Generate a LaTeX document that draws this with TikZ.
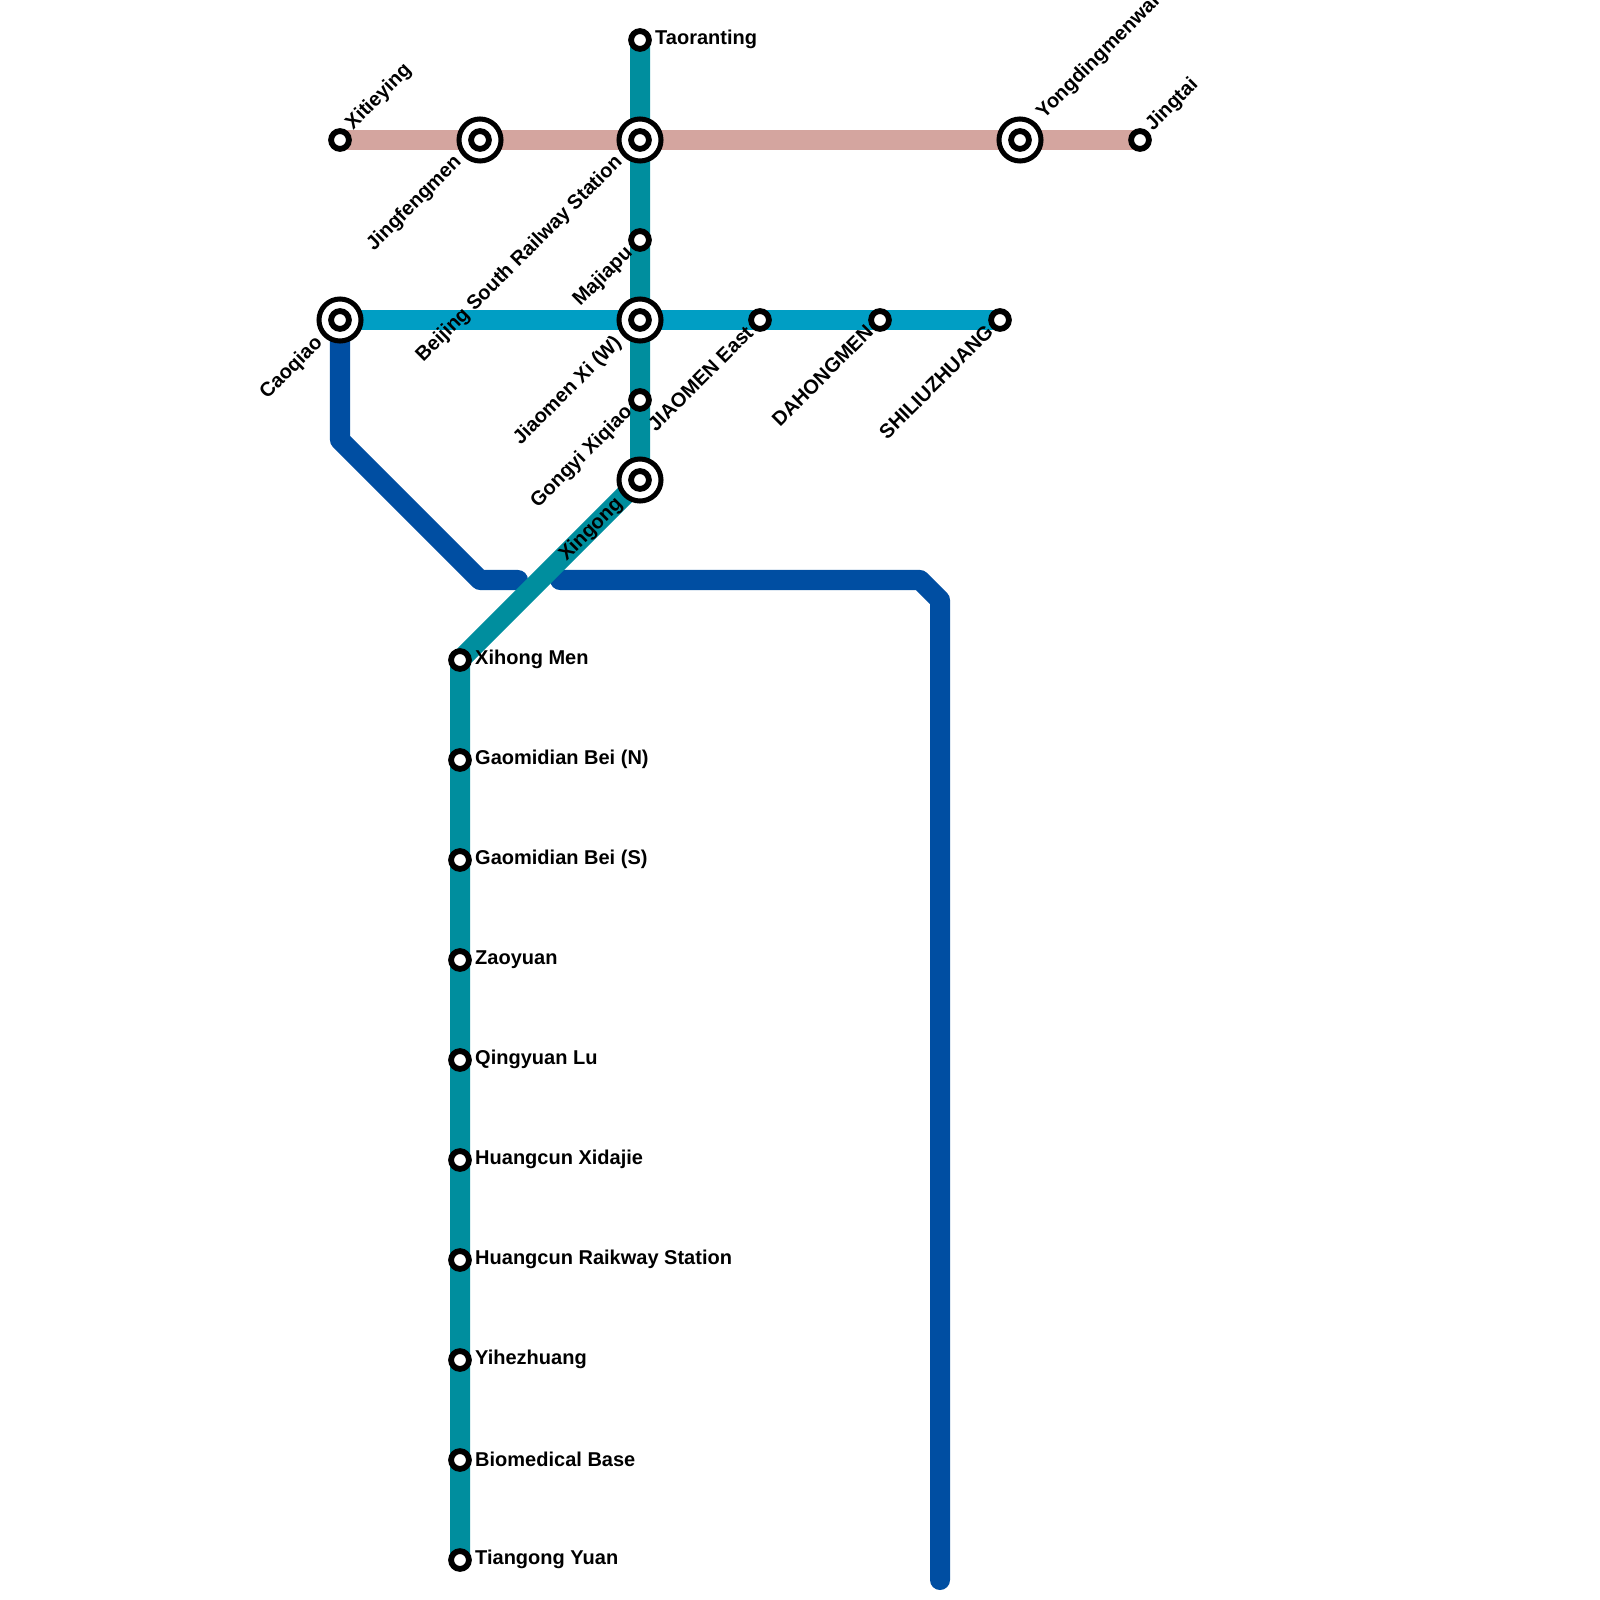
\documentclass[tikz,border=0pt]{standalone}
\usepackage{fontspec}
\setmainfont{Liberation Sans}
\usetikzlibrary{backgrounds}
\definecolor{linepink}{HTML}{D4A59F}
\definecolor{lineteal}{HTML}{008E9E}
\definecolor{linesky}{HTML}{009EC4}
\definecolor{linenavy}{HTML}{004EA2}
\tikzset{
  stop/.style={circle, draw=black, fill=white, line width=0.058cm, inner sep=0, minimum size=0.178cm},
  hub/.style={circle, draw=black, fill=white, line width=0.05cm, inner sep=0, minimum size=0.42cm,
    path picture={\draw [line width=0.058cm] (path picture bounding box.center) circle (0.089cm);}},
  track/.style={line width=0.2cm, line join=round},
  stationname/.style={font=\fontsize{5.69}{6}\selectfont\bfseries, inner sep=0, text=black},
  namer/.style={stationname, anchor=west},
  nameup/.style={stationname, rotate=45, anchor=west},
  namedown/.style={stationname, rotate=45, anchor=east}
}
\begin{document}
\begin{tikzpicture}[x=0.01cm, y=-0.01cm]
  \useasboundingbox (0, 0) rectangle (1600, 1600);
  % stations
  \node [stop] (xitieying) at (340, 140) {};
  \node [hub] (jingfengmen) at (480, 140) {};
  \node [hub] (bjsouth) at (640, 140) {};
  \node [hub] (yongding) at (1020, 140) {};
  \node [stop] (jingtai) at (1140, 140) {};
  \node [stop] (taoranting) at (640, 40) {};
  \node [stop] (majiapu) at (640, 240) {};
  \node [hub] (jiaomenxi) at (640, 320) {};
  \node [stop] (gongyi) at (640, 400) {};
  \node [hub] (xingong) at (640, 480) {};
  \node [hub] (caoqiao) at (340, 320) {};
  \node [stop] (jiaomeneast) at (760, 320) {};
  \node [stop] (dahongmen) at (880, 320) {};
  \node [stop] (shiliu) at (1000, 320) {};
  \foreach \y/\id/\txt in {660/xihong/Xihong Men, 760/gaobein/Gaomidian Bei (N),
      860/gaobeis/Gaomidian Bei (S), 960/zaoyuan/Zaoyuan, 1060/qingyuan/Qingyuan Lu,
      1160/huangxi/Huangcun Xidajie, 1260/huangst/Huangcun Raikway Station,
      1360/yihe/Yihezhuang, 1460/biomed/Biomedical Base, 1560/tiangong/Tiangong Yuan} {
    \node [stop] (\id) at (460, \y) {};
    \node [namer] (\id-name) at (474.5, \y-0.5) {\txt};
  }
  % names
  \node [namer] (taoranting-name) at (654.5, 39.5) {Taoranting};
  \node [nameup] (xitieying-name) at (349, 127) {Xitieying};
  \node [nameup] (yongding-name) at (1040, 116) {Yongdingmenwai};
  \node [nameup] (jingtai-name) at (1149, 128) {Jingtai};
  \node [namedown] (jingfengmen-name) at (459, 159) {Jingfengmen};
  \node [namedown] (bjsouth-name) at (620, 159) {Beijing South Railway Station};
  \node [namedown] (majiapu-name) at (630, 250) {Majiapu};
  \node [namedown] (jiaomenxi-name) at (619, 340) {Jiaomen Xi (W)};
  \node [namedown] (gongyi-name) at (630, 409) {Gongyi Xiqiao};
  \node [namedown] (xingong-name) at (620, 501) {Xingong};
  \node [namedown] (caoqiao-name) at (320, 340) {Caoqiao};
  \node [namedown] (jiaomeneast-name) at (750, 329) {JIAOMEN East};
  \node [namedown] (dahongmen-name) at (870, 328) {DAHONGMEN};
  \node [namedown] (shiliu-name) at (990, 328) {SHILIUZHUANG};
  % free ends of the navy line
  \coordinate (navya) at (340, 440);
  \coordinate (navyb) at (480, 580);
  \coordinate (navyc) at (518, 580);
  \coordinate (navyd) at (560, 580);
  \coordinate (navye) at (920, 580);
  \coordinate (navyf) at (940, 600);
  \coordinate (navyg) at (940, 1580);
  % lines
  \begin{scope}[on background layer]
    \draw [track, linenavy, line cap=round] (caoqiao.center) -- (navya) -- (navyb) -- (navyc);
    \draw [track, linenavy, line cap=round] (navyd) -- (navye) -- (navyf) -- (navyg);
    \draw [track, lineteal] (taoranting.center) -- (xingong.center) -- (xihong.center) -- (tiangong.center);
    \draw [track, linepink] (xitieying.center) -- (jingtai.center);
    \draw [track, linesky] (caoqiao.center) -- (shiliu.center);
  \end{scope}
\end{tikzpicture}
\end{document}
